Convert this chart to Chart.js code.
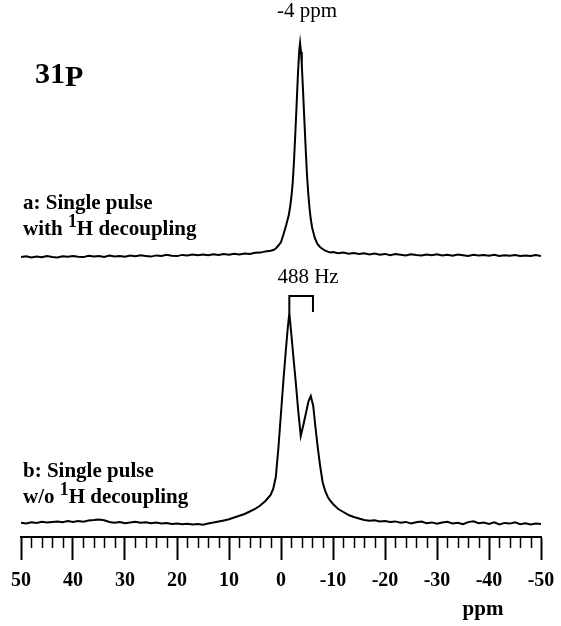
<!DOCTYPE html>
<html>
<head>
<meta charset="utf-8">
<script src="https://cdn.jsdelivr.net/npm/chart.js@4"></script>
<style>
  body { margin: 0; background: #fff; }
  #wrap { position: relative; width: 561px; height: 626px; }
  #wrap canvas { position: absolute; left: 0; top: 0; }
  .t { position: absolute; font-family: 'Liberation Serif', 'Times New Roman', serif; color: #000; line-height: 1; white-space: nowrap; }
  .b { font-weight: bold; font-size: 21px; }
  .n { font-size: 21px; }
  .c { transform: translateX(-50%); }
  sup { font-size: 0.85em; vertical-align: 0.45em; line-height: 0; }
</style>
</head>
<body>
<div id="wrap">
  <canvas id="myChart" width="561" height="626"></canvas>
  <div class="t n c" style="left:307px; top:0px;">-4 ppm</div>
  <div class="t b" style="left:35px; top:58px; font-size:30px;">31<span style="position:relative; top:3px;">P</span></div>
  <div class="t b" style="left:23px; top:192px;">a: Single pulse</div>
  <div class="t b" style="left:23px; top:218px;">with <sup>1</sup>H decoupling</div>
  <div class="t n c" style="left:308px; top:266px;">488 Hz</div>
  <div class="t b" style="left:23px; top:460px;">b: Single pulse</div>
  <div class="t b" style="left:23px; top:486px;">w/o <sup>1</sup>H decoupling</div>
  <div class="t b c" style="left:483px; top:598px; font-size:21px;">ppm</div>
</div>
<script>
// spectrum a: single pulse with 1H decoupling
var ppmA = [50,49,48,47,46,45,44,43,42,41,40,39,38,37,36,35,34,33,32,31,30,29,28,27,26,25,24,23,22,21,
  20,19,18,17,16,15,14,13,12,11,10,9,8,7,6,5,4,3,
  2,1.5,1,0.5,0,-0.5,-1,-1.5,-1.75,-2,-2.25,-2.5,-2.75,-3,-3.25,-3.5,-3.67,-3.85,-4,-4.25,-4.5,-4.75,
  -5,-5.25,-5.5,-5.75,-6,-6.5,-7,-7.5,-8,-8.5,-9,-9.5,-10,
  -11,-12,-13,-14,-15,-16,-17,-18,-19,-20,-21,-22,-23,-24,-25,-26,-27,-28,-29,-30,
  -31,-32,-33,-34,-35,-36,-37,-38,-39,-40,-41,-42,-43,-44,-45,-46,-47,-48,-49,-50];
var intensityA = [-2.0,-1.2,-2.5,-1.6,-2.2,-1.0,-1.9,-2.4,-1.3,-1.8,
  -0.9,-1.7,-2.1,-0.8,-1.5,-1.1,-2.0,-0.6,-1.4,-0.9,
  -1.7,-0.5,-1.2,-0.3,-1.0,-1.6,-0.4,-0.9,0.2,-0.7,
  -1.1,0.1,-0.5,0.4,-0.3,0.6,-0.2,0.8,0.1,0.9,
  0.3,1.2,0.5,1.4,1.0,2.2,2.4,3.6,
  4.2,5.0,6.5,9.5,13,21,30,40,48,58,72,94,121,150,180,204,212,203,190,163,134,106,
  80,61,46,35,27,17,11,8,6,4.3,3.4,2.6,3.0,
  1.8,2.4,1.2,2.1,1.0,1.8,0.6,1.4,0.2,1.1,
  -0.2,0.9,0.3,-0.4,0.8,0.0,-0.6,0.5,-0.3,0.7,
  -0.5,0.2,-0.8,0.4,-0.2,-0.9,0.3,-0.6,0.1,-0.7,
  0.2,-1.0,-0.2,-0.8,0.0,-1.1,-0.4,-0.9,-0.1,-1.0];

// spectrum b: single pulse without 1H decoupling
var ppmB = [50,49,48,47,46,45,44,43,42,41,40,39,38,37,36,35,34,33,32,31,30,29,28,27,26,25,24,23,22,21,
  20,19,18,17,16,15,14,13,12,11,10,9,8,7,6,5,4,3,
  2,1.5,1,0.5,0,-0.5,-1,-1.3,-1.6,-2,-2.4,-2.8,-3.3,-3.8,-4.3,-4.8,-5.3,-5.73,-6.2,-6.6,-7.08,
  -7.5,-8,-8.5,-9,-9.5,-10,
  -11,-12,-13,-14,-15,-16,-17,-18,-19,-20,-21,-22,-23,-24,-25,-26,-27,-28,-29,-30,
  -31,-32,-33,-34,-35,-36,-37,-38,-39,-40,-41,-42,-43,-44,-45,-46,-47,-48,-49,-50];
var intensityB = [0.3,-0.5,0.8,0.1,1.2,0.4,1.0,1.6,0.7,1.9,
  1.1,2.0,1.3,2.4,2.9,3.6,2.8,1.0,0.2,0.9,
  -0.2,0.6,1.3,0.2,0.8,-0.3,0.5,-0.6,0.1,-0.9,
  -0.4,-1.3,-0.7,-1.6,-1.0,-1.8,-0.6,0.4,1.5,2.6,
  3.8,5.5,7.2,9.0,11.5,14.0,17.5,22,
  28,34,46,75,110,145,177,195,210,188,165,143,113,87,98,110,122,127,117,97,75,
  58,41,32,26,22,19,
  14,11,8,6,4.5,3,2.2,2.8,1.5,2.0,
  0.9,1.6,0.2,1.1,-0.4,0.8,1.4,-0.2,0.6,-0.8,
  0.5,1.2,-0.5,0.3,-1.1,0.9,1.8,-0.3,0.4,-0.9,
  0.6,-1.4,0.1,-0.6,0.7,-1.2,-0.2,-1.5,-0.4,-1.0];

var xTicks = [50, 40, 30, 20, 10, 0, -10, -20, -30, -40, -50];

// vertical offsets of the two traces (baselines)
var offsetA = 282;
var offsetB = 14;

// 488 Hz bracket between the two lines of spectrum b
var splitPpm = [-1.6, -6.15];
var bracketTop = 227;
var bracketLegs = [210, 211];

function toPoints(xs, ys, off) {
  return xs.map(function (p, i) { return { x: p, y: ys[i] + off }; });
}

var minorTicks = {
  id: 'minorTicks',
  afterDraw: function (chart) {
    var sx = chart.scales.x, c = chart.ctx, top = chart.chartArea.bottom;
    c.save();
    c.strokeStyle = '#000';
    c.lineWidth = 1.5;
    for (var v = -50; v <= 50; v += 2) {
      if (v % 10 === 0) continue;
      var px = Math.round(sx.getPixelForValue(v)) + 0.5;
      c.beginPath(); c.moveTo(px, top); c.lineTo(px, top + 11); c.stroke();
    }
    c.restore();
  }
};

var bracket = {
  id: 'bracket',
  afterDraw: function (chart) {
    var sx = chart.scales.x, sy = chart.scales.y, c = chart.ctx;
    var x1 = sx.getPixelForValue(splitPpm[0]), x2 = sx.getPixelForValue(splitPpm[1]);
    var yt = sy.getPixelForValue(offsetB + bracketTop);
    c.save();
    c.strokeStyle = '#000';
    c.lineWidth = 2;
    c.beginPath();
    c.moveTo(x1, sy.getPixelForValue(offsetB + bracketLegs[0]));
    c.lineTo(x1, yt);
    c.lineTo(x2, yt);
    c.lineTo(x2, sy.getPixelForValue(offsetB + bracketLegs[1]));
    c.stroke();
    c.restore();
  }
};

new Chart("myChart", {
  type: "line",
  data: {
    datasets: [{
      data: toPoints(ppmA, intensityA, offsetA),
      borderColor: "#000", borderWidth: 2, pointRadius: 0, tension: 0
    }, {
      data: toPoints(ppmB, intensityB, offsetB),
      borderColor: "#000", borderWidth: 2, pointRadius: 0, tension: 0
    }]
  },
  options: {
    responsive: false,
    animation: false,
    layout: { autoPadding: false, padding: { left: 21, right: 20, top: 0, bottom: 0 } },
    plugins: { legend: { display: false }, tooltip: { enabled: false } },
    scales: {
      x: {
        type: "linear", reverse: true, min: -50, max: 50,
        afterBuildTicks: function (s) { s.ticks = xTicks.map(function (v) { return { value: v }; }); },
        ticks: {
          color: "#000", padding: 9, maxRotation: 0, autoSkip: false,
          font: { family: "'Liberation Serif', serif", size: 20, weight: "bold" }
        },
        grid: { drawOnChartArea: false, drawTicks: true, tickLength: 23, tickWidth: 2, tickColor: "#000" },
        border: { display: true, color: "#000", width: 2 },
        afterFit: function (s) { s.height = 89; s.paddingLeft = 0; s.paddingRight = 0; }
      },
      y: { display: false, min: 0, max: 537 }
    }
  },
  plugins: [minorTicks, bracket]
});
</script>
</body>
</html>
